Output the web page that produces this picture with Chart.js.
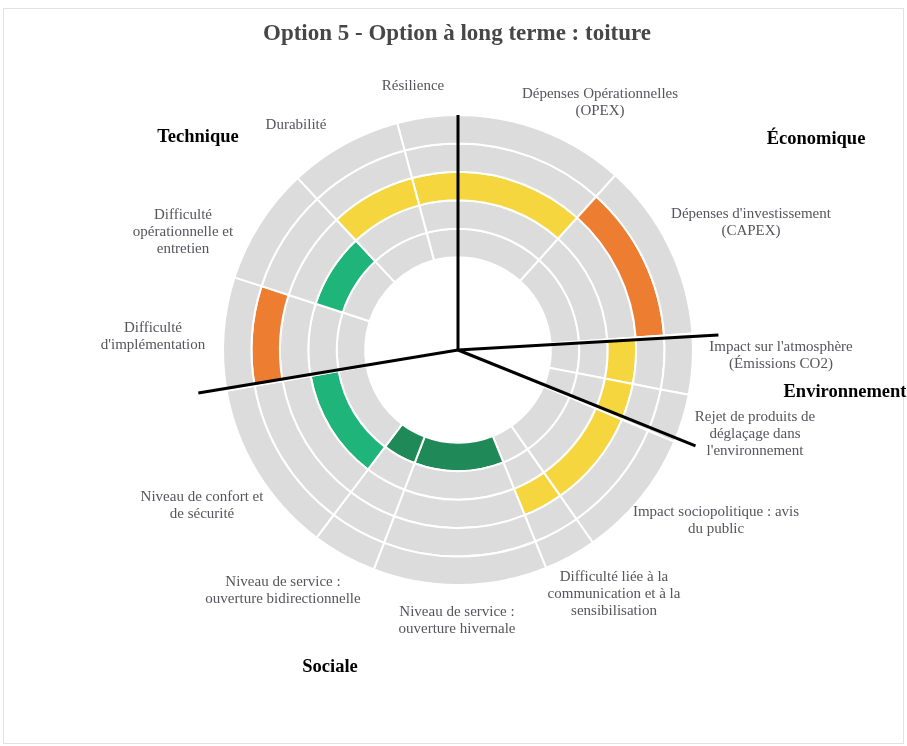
<!DOCTYPE html>
<html lang="fr">
<head>
<meta charset="UTF-8">
<title>Option 5 - Option à long terme : toiture</title>
<script src="https://cdn.jsdelivr.net/npm/chart.js@4.4.1/dist/chart.umd.min.js"></script>
<style>
  html, body { margin: 0; padding: 0; background: #fff; }
  #wrap { position: relative; width: 907px; height: 746px; }
</style>
</head>
<body>
<div id="wrap"><canvas id="roue" width="907" height="746"></canvas></div>
<script>
// critères, dans le sens horaire à partir de Résilience
const criteres = [
  ['Résilience'],
  ['Dépenses Opérationnelles', '(OPEX)'],
  ["Dépenses d'investissement", '(CAPEX)'],
  ["Impact sur l'atmosphère", '(Émissions CO2)'],
  ['Rejet de produits de', 'déglaçage dans', "l'environnement"],
  ['Impact sociopolitique : avis', 'du public'],
  ['Difficulté liée à la', 'communication et à la', 'sensibilisation'],
  ['Niveau de service :', 'ouverture hivernale'],
  ['Niveau de service :', 'ouverture bidirectionnelle'],
  ['Niveau de confort et', 'de sécurité'],
  ['Difficulté', "d'implémentation"],
  ['Difficulté', 'opérationnelle et', 'entretien'],
  ['Durabilité']
];
// part angulaire de chaque critère (degrés)
const poids = [15, 42, 44, 15, 12, 32, 13, 43, 16, 43, 28, 29, 28];
// anneau coloré : 1 = extérieur ... 5 = intérieur
const niveaux = [3, 3, 2, 3, 3, 3, 3, 5, 5, 4, 2, 4, 3];
const couleursNiveau = ['#D9534F', '#ED7D31', '#F6D63E', '#1EB47A', '#1F8A57'];

const categories = ['Économique', 'Environnement', 'Sociale', 'Technique'];
const separateurs = [0, 86.7, 112, 260.6];
const debut = -15;

// mise en page des textes (px)
const posCriteres = [
  [413, 86], [600, 94], [751, 214], [781, 347], [755, 417], [716, 512],
  [614, 577], [457, 612], [283, 582], [202, 497], [153, 328], [183, 215], [296, 125]
];
const posCategories = [[816, 139], [845, 392], [330, 667], [198, 137]];
const longueurs = [1.0, 1.11, 1.09, 1.12];

const gris = '#DCDCDC';
const anneaux = [1, 2, 3, 4, 5].map(n => ({
  data: poids,
  backgroundColor: niveaux.map(v => v === n ? couleursNiveau[n - 1] : gris),
  borderColor: '#fff',
  borderWidth: 2
}));

const habillage = {
  id: 'habillage',
  beforeDraw(chart) {
    const ctx = chart.ctx;
    ctx.save();
    ctx.fillStyle = '#fff';
    ctx.fillRect(0, 0, chart.width, chart.height);
    ctx.strokeStyle = '#e2e2e2';
    ctx.lineWidth = 1;
    ctx.strokeRect(3.5, 8.5, chart.width - 7, chart.height - 11);
    ctx.restore();
  },
  afterDatasetsDraw(chart) {
    const ctx = chart.ctx;
    const arc = chart.getDatasetMeta(0).data[0];
    const cx = arc.x, cy = arc.y, r = arc.outerRadius;
    ctx.save();
    ctx.strokeStyle = '#000';
    ctx.lineWidth = 3;
    separateurs.forEach((a, i) => {
      const t = a * Math.PI / 180;
      ctx.beginPath();
      ctx.moveTo(cx, cy);
      ctx.lineTo(cx + Math.sin(t) * r * longueurs[i], cy - Math.cos(t) * r * longueurs[i]);
      ctx.stroke();
    });
    ctx.restore();
  },
  afterDraw(chart) {
    const ctx = chart.ctx;
    ctx.save();
    ctx.textAlign = 'center';
    ctx.textBaseline = 'middle';
    ctx.fillStyle = '#474747';
    ctx.font = 'bold 23px "Liberation Serif", "DejaVu Serif", serif';
    ctx.fillText('Option 5 - Option à long terme : toiture', 457, 34);

    ctx.fillStyle = '#55555c';
    ctx.font = '15px "Liberation Serif", serif';
    criteres.forEach((lignes, i) => {
      lignes.forEach((l, k) => ctx.fillText(l, posCriteres[i][0], posCriteres[i][1] + k * 17));
    });

    ctx.fillStyle = '#000';
    ctx.font = 'bold 18.5px "Liberation Serif", serif';
    categories.forEach((c, i) => ctx.fillText(c, posCategories[i][0], posCategories[i][1]));
    ctx.restore();
  }
};

new Chart(document.getElementById('roue'), {
  type: 'doughnut',
  data: { labels: criteres.map(c => c.join(' ')), datasets: anneaux },
  options: {
    responsive: false,
    animation: false,
    rotation: debut,
    cutout: '39.5%',
    layout: { padding: { left: 222, right: 213, top: 114, bottom: 160 } },
    plugins: { legend: { display: false }, tooltip: { enabled: false }, title: { display: false } }
  },
  plugins: [habillage]
});
</script>
</body>
</html>
